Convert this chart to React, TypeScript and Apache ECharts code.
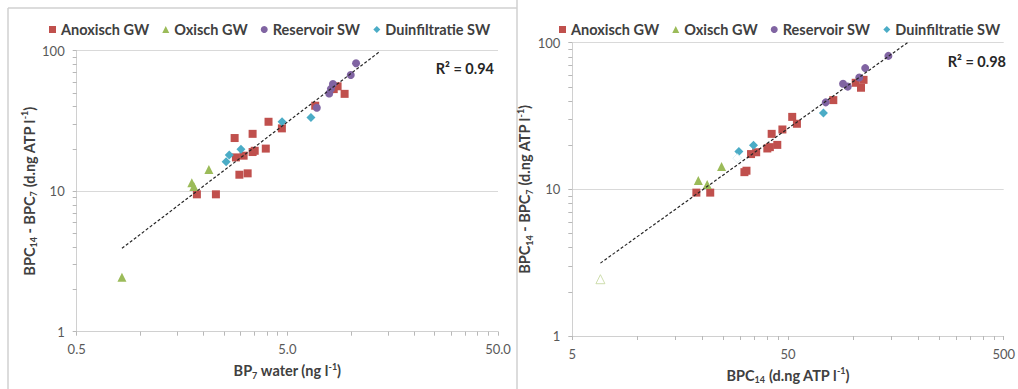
import React, { useEffect, useRef } from "react";
import * as echarts from "echarts";

// ---------- data (x, y) ----------
// Left panel: x = BP7 water (ng l-1), y = BPC14 - BPC7
const leftAnoxisch = [
  [1.86, 9.5], [2.29, 9.5], [2.96, 13.1], [3.24, 13.4], [2.85, 17.4], [3.1, 17.9],
  [3.42, 19.0], [3.5, 19.4], [3.95, 20.1], [2.81, 23.9], [3.42, 25.6], [4.07, 31.2],
  [4.71, 28.0], [6.78, 40.6], [8.3, 53.3], [9.35, 49.3], [8.66, 55.8],
];
const leftOxisch = [[1.76, 11.5], [1.8, 10.8], [2.12, 14.3], [0.82, 2.44]];
const leftReservoir = [[10.6, 81.3], [10.0, 67.1], [8.23, 57.9], [8.05, 53.5], [7.9, 49.6], [6.9, 39.3]];
const leftDuin = [[2.56, 16.2], [2.65, 18.1], [3.01, 19.9], [4.72, 31.2], [6.47, 33.5]];
const leftTrend = [[0.82, 3.92], [13.7, 98.4]];

// Right panel: x = BPC14, y = BPC14 - BPC7
const rightAnoxisch = [
  [18.8, 9.5], [21.8, 9.5], [31.4, 13.1], [32.1, 13.4], [33.7, 17.4], [35.6, 17.9],
  [40.1, 19.0], [41.2, 19.4], [44.6, 20.1], [42.0, 23.9], [47.1, 25.6], [52.3, 31.2],
  [55.0, 28.0], [81.1, 40.6], [103, 53.3], [109, 49.3], [112, 55.8],
];
const rightOxisch = [[19.2, 11.5], [21.1, 10.8], [24.6, 14.3]];
const rightOxischExcluded = [[6.75, 2.44]];
const rightReservoir = [[146, 81.3], [114, 67.1], [107, 57.9], [90, 52.5], [94.6, 50.2], [74.8, 39.2]];
const rightDuin = [[29.6, 18.1], [34.6, 20.0], [73, 33.2]];
const rightDuinExcluded = [[29.1, 16.3]];
const rightTrend = [[6.75, 3.14], [179, 100]];

const seriesNames = ["Anoxisch GW", "Oxisch GW", "Reservoir SW", "Duinfiltratie SW"];
const r2Left = "R² = 0.94";
const r2Right = "R² = 0.98";

// ticks
const yTicks = [1, 2, 3, 4, 5, 6, 7, 8, 9, 10, 20, 30, 40, 50, 60, 70, 80, 90, 100];
const yLabels = [1, 10, 100];
const leftXTicks = [0.5, 1, 1.5, 2, 2.5, 3, 3.5, 4, 4.5, 5, 10, 15, 20, 25, 30, 35, 40, 45, 50];
const leftXLabels = [0.5, 5, 50];
const rightXTicks = [5, 10, 15, 20, 25, 30, 35, 40, 45, 50, 100, 150, 200, 250, 300, 350, 400, 450, 500];
const rightXLabels = [5, 50, 500];

const FONT = "Lato, 'Open Sans', sans-serif";
const COLORS = ["#C0504D", "#9BBB59", "#8064A2", "#4BACC6"];
const SYMBOLS = ["rect", "triangle", "circle", "diamond"];
const SIZES = [8, 9, 8, 9];

const rich = {
  b: { fontSize: 14.5, fontWeight: "bold", color: "#404040", fontFamily: FONT, lineHeight: 18 },
  sub: { fontSize: 9, fontWeight: "bold", color: "#404040", fontFamily: FONT, lineHeight: 9, verticalAlign: "bottom" },
  sup: { fontSize: 9, fontWeight: "bold", color: "#404040", fontFamily: FONT, lineHeight: 9, verticalAlign: "top" },
};

function xAxis(gridIndex: number, min: number, max: number, ticks: number[], labels: number[], fmt: (v: number) => string, name: string) {
  return {
    type: "log",
    logBase: 10,
    gridIndex,
    min,
    max,
    name,
    nameLocation: "middle",
    nameGap: 30,
    nameTextStyle: { rich },
    axisLine: { show: true, lineStyle: { color: "#d0d0d0", width: 1 } },
    axisTick: { show: true, customValues: ticks, length: 4, lineStyle: { color: "#b8b8b8" } },
    axisLabel: { customValues: labels, formatter: fmt, color: "#595959", fontSize: 13, fontFamily: FONT, margin: 11 },
    splitLine: { show: false },
  };
}

function yAxis(gridIndex: number, name: string, gap: number) {
  return {
    type: "log",
    logBase: 10,
    gridIndex,
    min: 1,
    max: 100,
    name,
    nameLocation: "middle",
    nameGap: gap,
    nameTextStyle: { rich },
    axisLine: { show: true, lineStyle: { color: "#d0d0d0", width: 1 } },
    axisTick: { show: true, customValues: yTicks, length: 4, lineStyle: { color: "#b8b8b8" } },
    axisLabel: { customValues: yLabels, formatter: (v: number) => String(v), color: "#595959", fontSize: 13, fontFamily: FONT, margin: 12 },
    splitLine: { show: false },
  };
}

// overlay axis used only to draw the major horizontal gridlines (1, 10, 100)
function gridAxis(gridIndex: number) {
  return {
    type: "log",
    logBase: 10,
    gridIndex,
    min: 1,
    max: 100,
    position: "left",
    axisLine: { show: false },
    axisTick: { show: false },
    axisLabel: { show: false },
    splitLine: { show: true, lineStyle: { color: "#d9d9d9", width: 1 } },
  };
}

function scatter(name: string, idx: number, axisIndex: number, data: number[][]) {
  return {
    type: "scatter",
    name,
    xAxisIndex: axisIndex,
    yAxisIndex: axisIndex,
    data,
    symbol: SYMBOLS[idx],
    symbolSize: SIZES[idx],
    itemStyle: { color: COLORS[idx], opacity: 1 },
    z: 3,
  };
}

function trend(axisIndex: number, data: number[][]) {
  return {
    type: "line",
    xAxisIndex: axisIndex,
    yAxisIndex: axisIndex,
    data,
    symbol: "none",
    silent: true,
    lineStyle: { color: "#262626", width: 1.2, type: [3, 2] },
    z: 4,
  };
}

const legendText = { color: "#404040", fontSize: 14.5, fontWeight: "bold", fontFamily: FONT };

export default function App() {
  const ref = useRef<HTMLDivElement>(null);
  useEffect(() => {
    if (!ref.current) return;
    const chart = echarts.init(ref.current, undefined, { renderer: "svg" });
    const lists = [
      [leftAnoxisch, leftOxisch, leftReservoir, leftDuin],
      [rightAnoxisch, rightOxisch, rightReservoir, rightDuin],
    ];
    const series: any[] = [];
    lists.forEach((group, gi) => {
      group.forEach((d, i) => series.push(scatter(seriesNames[i], i, gi, d)));
    });
    series.push({
      type: "scatter", xAxisIndex: 1, yAxisIndex: 1, data: rightOxischExcluded,
      symbol: "triangle", symbolSize: 9,
      itemStyle: { color: "#ffffff", borderColor: "#c3d69b", borderWidth: 1 }, z: 3,
    });
    series.push({
      type: "scatter", xAxisIndex: 1, yAxisIndex: 1, data: rightDuinExcluded,
      symbol: "diamond", symbolSize: 9,
      itemStyle: { color: "#ffffff", borderColor: "#dbeef3", borderWidth: 1 }, z: 3,
    });
    series.push(trend(0, leftTrend));
    series.push(trend(1, rightTrend));

    chart.setOption({
      animation: false,
      backgroundColor: "#ffffff",
      grid: [
        { left: 76.7, top: 50.7, width: 421.3, height: 281 },
        { left: 572.3, top: 42.7, width: 438.7, height: 298 },
      ],
      legend: [
        {
          data: seriesNames, left: 44, top: 17, itemWidth: 7, itemHeight: 7, itemGap: 13,
          textStyle: legendText,
        },
        {
          data: seriesNames, left: 554, top: 17, itemWidth: 7, itemHeight: 7, itemGap: 13,
          textStyle: legendText,
        },
      ],
      xAxis: [
        xAxis(0, 0.5, 50, leftXTicks, leftXLabels, (v: number) => v.toFixed(1), "{b|BP}{sub|7}{b| water (ng l}{sup|-1}{b|)}"),
        xAxis(1, 5, 500, rightXTicks, rightXLabels, (v: number) => String(v), "{b|BPC}{sub|14}{b| (d.ng ATP l}{sup|-1}{b|)}"),
      ],
      yAxis: [
        yAxis(0, "{b|BPC}{sub|14}{b| - BPC}{sub|7}{b| (d.ng ATP l}{sup|-1}{b|)}", 35),
        yAxis(1, "{b|BPC}{sub|14}{b| - BPC}{sub|7}{b| (d.ng ATP l}{sup|-1}{b|)}", 32),
        gridAxis(0),
        gridAxis(1),
      ],
      series,
      graphic: [
        { type: "line", shape: { x1: 8, y1: 8, x2: 517, y2: 8 }, style: { stroke: "#d0d0d0", lineWidth: 1.5 }, silent: true },
        { type: "line", shape: { x1: 8, y1: 8, x2: 8, y2: 389 }, style: { stroke: "#d0d0d0", lineWidth: 1.5 }, silent: true },
        { type: "line", shape: { x1: 517, y1: 0, x2: 517, y2: 389 }, style: { stroke: "#d0d0d0", lineWidth: 1.5 }, silent: true },
        {
          type: "text", x: 494, y: 68,
          style: { text: r2Left, fill: "#262626", font: `bold 14.5px ${FONT}`, textAlign: "right", textVerticalAlign: "middle" },
          silent: true,
        },
        {
          type: "text", x: 1006, y: 61,
          style: { text: r2Right, fill: "#262626", font: `bold 14.5px ${FONT}`, textAlign: "right", textVerticalAlign: "middle" },
          silent: true,
        },
      ],
    });
    return () => chart.dispose();
  }, []);
  return <div ref={ref} style={{ position: "absolute", left: 0, top: 0, width: 1018, height: 389 }} />;
}
